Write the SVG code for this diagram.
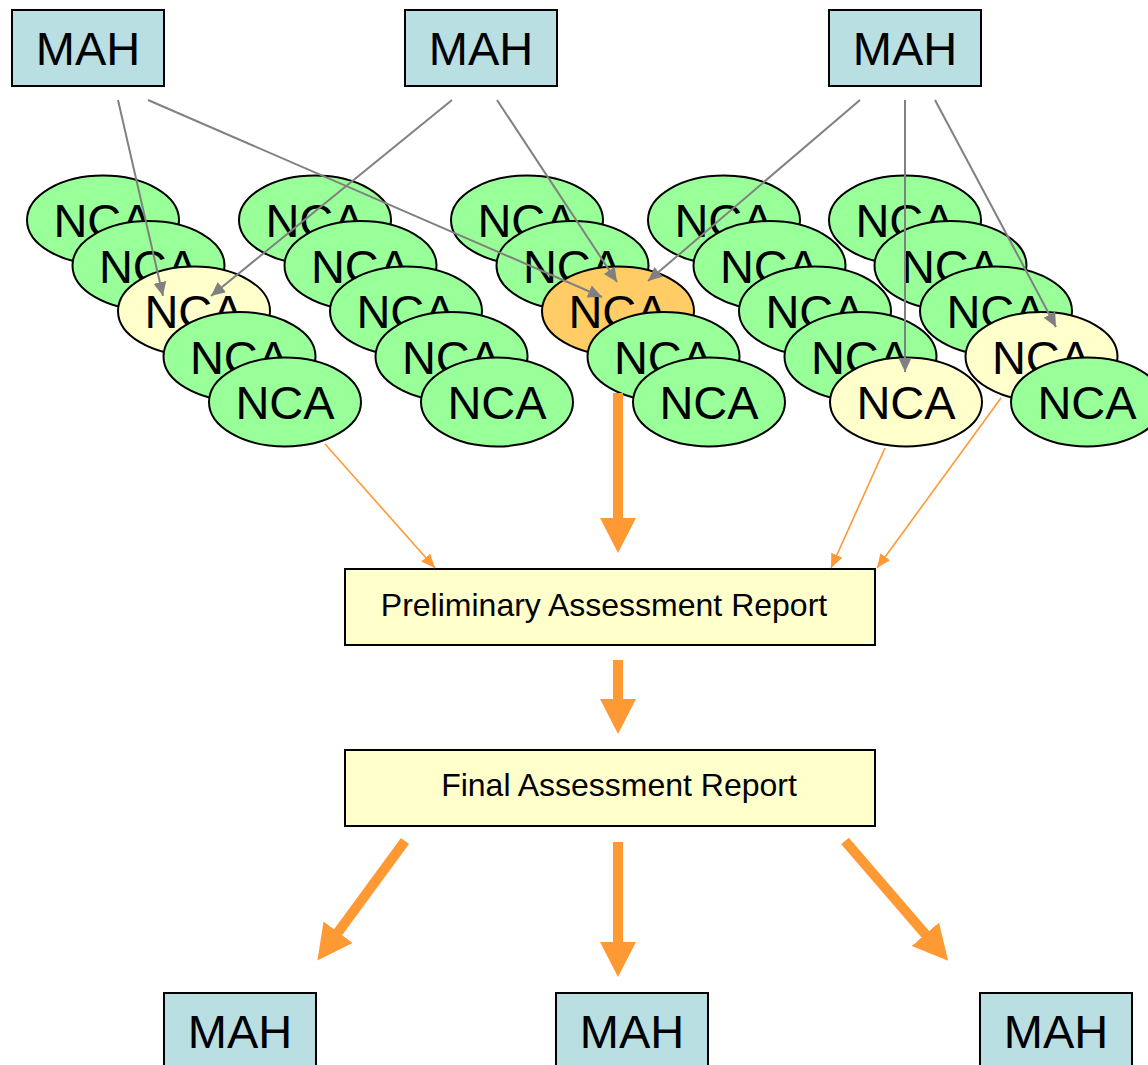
<svg xmlns="http://www.w3.org/2000/svg" width="1148" height="1065" viewBox="0 0 1148 1065">
<style>
.mah{fill:#B9DFE3;stroke:#000;stroke-width:2}
.rep{fill:#FFFFCC;stroke:#000;stroke-width:2}
.g{fill:#99FF99;stroke:#000;stroke-width:2}
.y{fill:#FFFFCC;stroke:#000;stroke-width:2}
.o{fill:#FFCC66;stroke:#000;stroke-width:2}
.big{font-family:"Liberation Sans",Arial,sans-serif;font-size:47px;fill:#000;text-anchor:middle}
.lbl{font-family:"Liberation Sans",Arial,sans-serif;font-size:32px;fill:#000;text-anchor:middle}
.gray{stroke:#808080;stroke-width:2;fill:none;marker-end:url(#ga)}
.thin{stroke:#FF9933;stroke-width:1.6;fill:none;marker-end:url(#ta)}
.thick{stroke:#FF9933;stroke-width:10;fill:none;marker-end:url(#ba)}
</style>
<defs>
<marker id="ga" markerUnits="userSpaceOnUse" markerWidth="16" markerHeight="14" refX="14" refY="6.5" orient="auto"><path d="M0,0 L14,6.5 L0,13 z" fill="#808080"/></marker>
<marker id="ta" markerUnits="userSpaceOnUse" markerWidth="16" markerHeight="14" refX="14" refY="6" orient="auto"><path d="M0,0 L14,6 L0,12 z" fill="#FF9933"/></marker>
<marker id="ba" markerUnits="userSpaceOnUse" markerWidth="38" markerHeight="38" refX="1" refY="18" orient="auto"><path d="M0,0 L35,18 L0,36 z" fill="#FF9933"/></marker>
</defs>

<g id="mah-top-1"><rect class="mah" x="12" y="10" width="152" height="76"/><text class="big" x="88" y="65">MAH</text></g>
<g id="mah-top-2"><rect class="mah" x="405" y="10" width="152" height="76"/><text class="big" x="481" y="65">MAH</text></g>
<g id="mah-top-3"><rect class="mah" x="829" y="10" width="152" height="76"/><text class="big" x="905" y="65">MAH</text></g>

<g id="nca-col-1">
<g id="nca-1-1"><ellipse class="g" cx="103" cy="220" rx="76" ry="44.5"/><text class="big" x="103" y="237">NCA</text></g>
<g id="nca-1-2"><ellipse class="g" cx="148.5" cy="265.5" rx="76" ry="44.5"/><text class="big" x="148.5" y="282.5">NCA</text></g>
<g id="nca-1-3"><ellipse class="y" cx="194" cy="311" rx="76" ry="44.5"/><text class="big" x="194" y="328">NCA</text></g>
<g id="nca-1-4"><ellipse class="g" cx="239.5" cy="356.5" rx="76" ry="44.5"/><text class="big" x="239.5" y="373.5">NCA</text></g>
<g id="nca-1-5"><ellipse class="g" cx="285" cy="402" rx="76" ry="44.5"/><text class="big" x="285" y="419">NCA</text></g>
</g>
<g id="nca-col-2">
<g id="nca-2-1"><ellipse class="g" cx="315" cy="220" rx="76" ry="44.5"/><text class="big" x="315" y="237">NCA</text></g>
<g id="nca-2-2"><ellipse class="g" cx="360.5" cy="265.5" rx="76" ry="44.5"/><text class="big" x="360.5" y="282.5">NCA</text></g>
<g id="nca-2-3"><ellipse class="g" cx="406" cy="311" rx="76" ry="44.5"/><text class="big" x="406" y="328">NCA</text></g>
<g id="nca-2-4"><ellipse class="g" cx="451.5" cy="356.5" rx="76" ry="44.5"/><text class="big" x="451.5" y="373.5">NCA</text></g>
<g id="nca-2-5"><ellipse class="g" cx="497" cy="402" rx="76" ry="44.5"/><text class="big" x="497" y="419">NCA</text></g>
</g>
<g id="nca-col-3">
<g id="nca-3-1"><ellipse class="g" cx="527" cy="220" rx="76" ry="44.5"/><text class="big" x="527" y="237">NCA</text></g>
<g id="nca-3-2"><ellipse class="g" cx="572.5" cy="265.5" rx="76" ry="44.5"/><text class="big" x="572.5" y="282.5">NCA</text></g>
<g id="nca-3-3"><ellipse class="o" cx="618" cy="311" rx="76" ry="44.5"/><text class="big" x="618" y="328">NCA</text></g>
<g id="nca-3-4"><ellipse class="g" cx="663.5" cy="356.5" rx="76" ry="44.5"/><text class="big" x="663.5" y="373.5">NCA</text></g>
<g id="nca-3-5"><ellipse class="g" cx="709" cy="402" rx="76" ry="44.5"/><text class="big" x="709" y="419">NCA</text></g>
</g>
<g id="nca-col-4">
<g id="nca-4-1"><ellipse class="g" cx="724" cy="220" rx="76" ry="44.5"/><text class="big" x="724" y="237">NCA</text></g>
<g id="nca-4-2"><ellipse class="g" cx="769.5" cy="265.5" rx="76" ry="44.5"/><text class="big" x="769.5" y="282.5">NCA</text></g>
<g id="nca-4-3"><ellipse class="g" cx="815" cy="311" rx="76" ry="44.5"/><text class="big" x="815" y="328">NCA</text></g>
<g id="nca-4-4"><ellipse class="g" cx="860.5" cy="356.5" rx="76" ry="44.5"/><text class="big" x="860.5" y="373.5">NCA</text></g>
<g id="nca-4-5"><ellipse class="y" cx="906" cy="402" rx="76" ry="44.5"/><text class="big" x="906" y="419">NCA</text></g>
</g>
<g id="nca-col-5">
<g id="nca-5-1"><ellipse class="g" cx="905" cy="220" rx="76" ry="44.5"/><text class="big" x="905" y="237">NCA</text></g>
<g id="nca-5-2"><ellipse class="g" cx="950.5" cy="265.5" rx="76" ry="44.5"/><text class="big" x="950.5" y="282.5">NCA</text></g>
<g id="nca-5-3"><ellipse class="g" cx="996" cy="311" rx="76" ry="44.5"/><text class="big" x="996" y="328">NCA</text></g>
<g id="nca-5-4"><ellipse class="y" cx="1041.5" cy="356.5" rx="76" ry="44.5"/><text class="big" x="1041.5" y="373.5">NCA</text></g>
<g id="nca-5-5"><ellipse class="g" cx="1087" cy="402" rx="76" ry="44.5"/><text class="big" x="1087" y="419">NCA</text></g>
</g>

<g id="par"><rect class="rep" x="345" y="569" width="530" height="76"/><text class="lbl" x="604" y="616">Preliminary Assessment Report</text></g>
<g id="far"><rect class="rep" x="345" y="750" width="530" height="76"/><text class="lbl" x="619" y="796">Final Assessment Report</text></g>

<g id="mah-bottom-1"><rect class="mah" x="164" y="993" width="152" height="80"/><text class="big" x="240" y="1048">MAH</text></g>
<g id="mah-bottom-2"><rect class="mah" x="556" y="993" width="152" height="80"/><text class="big" x="632" y="1048">MAH</text></g>
<g id="mah-bottom-3"><rect class="mah" x="980" y="993" width="152" height="80"/><text class="big" x="1056" y="1048">MAH</text></g>

<g id="connectors">
<line class="gray" x1="118" y1="100" x2="163" y2="296"/>
<line class="gray" x1="148" y1="100" x2="602" y2="297"/>
<line class="gray" x1="452" y1="100" x2="211" y2="296"/>
<line class="gray" x1="497" y1="100" x2="617" y2="282"/>
<line class="gray" x1="860" y1="100" x2="648" y2="281"/>
<line class="gray" x1="905" y1="100" x2="905" y2="372"/>
<line class="gray" x1="935" y1="100" x2="1056" y2="327"/>
<line class="thin" x1="325" y1="444" x2="435" y2="568"/>
<line class="thin" x1="885" y1="448" x2="831" y2="568"/>
<line class="thin" x1="1001" y1="398" x2="877" y2="568"/>
<line class="thick" x1="618" y1="393" x2="618" y2="519"/>
<line class="thick" x1="618" y1="660" x2="618" y2="700"/>
<line class="thick" x1="405" y1="841" x2="337.5" y2="933"/>
<line class="thick" x1="618" y1="842" x2="618" y2="943"/>
<line class="thick" x1="845" y1="841" x2="926" y2="935"/>
</g>
</svg>
